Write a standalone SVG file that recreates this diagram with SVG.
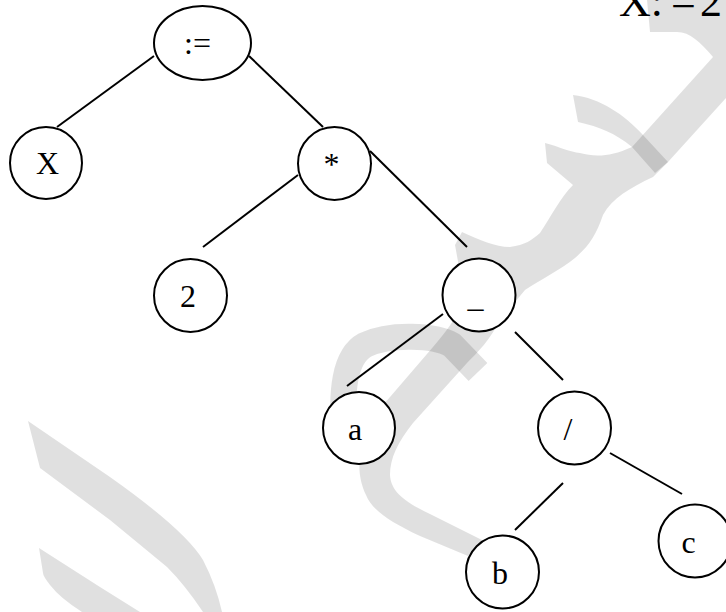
<svg xmlns="http://www.w3.org/2000/svg" width="726" height="612" viewBox="0 0 726 612">
<style>
.wm{fill:#000;fill-opacity:0.12}
.node{fill:#fff;stroke:#000;stroke-width:2}
.lbl{font-family:"Liberation Serif","Times New Roman",serif;font-size:32px;fill:#000;text-anchor:middle}
.edge{stroke:#000;stroke-width:2;fill:none}
</style>
<rect width="726" height="612" fill="#fff"/>
<g id="watermark">
<path class="wm" d="M647,0 L726,0 L726,98 L668,162 L653,177 C630,188 612,198 603,215 C596,235 590,245 575,258 C560,270 540,280 525,290 L500,320 C490,340 478,352 467,363 L413,423 C398,442 390,458 390,475 C391,492 405,502 430,514 L482,540 L468,556 L420,536 C390,522 372,510 366,495 C358,478 358,462 362,447 C368,425 378,410 390,397 L433,347 C445,333 455,320 465,300 L455,245 L462,232 C480,240 495,247 510,247 C525,245 532,240 540,233 C552,215 560,198 573,185 L547,163 L545,143 C560,147 570,152 580,153 C595,157 610,157 632,147 L713,57 C700,42 690,32 677,32 L650,32 Z"/>
<path class="wm" d="M573,95 L578,122 C600,127 615,133 632,147 L655,173 L668,162 L643,135 C625,115 600,98 573,95 Z"/>
<path d="M478,372 L452,345 C435,335 390,333 365,345 C345,356 340,390 345,440" fill="none" stroke="#000" stroke-opacity="0.12" stroke-width="26"/>
<path class="wm" d="M28,421 L110,477 Q185,530 203,560 Q216,585 222,612 L203,612 Q185,585 167,567 L110,520 L40,468 Z"/>
<path class="wm" d="M39,548 L100,587 L140,612 L82,612 Q60,598 50,585 Q43,576 43,573 Z"/>
</g>
<g id="connectors">
<line class="edge" x1="57" y1="127" x2="154" y2="56"/>
<line class="edge" x1="249" y1="56" x2="323" y2="127"/>
<line class="edge" x1="298" y1="175" x2="203" y2="247"/>
<line class="edge" x1="370" y1="151" x2="467" y2="247"/>
<line class="edge" x1="443" y1="314" x2="347" y2="386"/>
<line class="edge" x1="515" y1="332" x2="563" y2="380"/>
<line class="edge" x1="563" y1="483" x2="515" y2="530"/>
<line class="edge" x1="610" y1="453" x2="682" y2="494"/>
</g>
<g id="n-assign"><ellipse class="node" cx="202.5" cy="43" rx="48.5" ry="37"/><text class="lbl" x="197.5" y="54">:=</text></g>
<g id="n-x"><circle class="node" cx="46" cy="163" r="36"/><text class="lbl" x="47.5" y="174">X</text></g>
<g id="n-mul"><circle class="node" cx="334.5" cy="163.5" r="36.5"/><text class="lbl" x="331.5" y="175">*</text></g>
<g id="n-2"><circle class="node" cx="190.5" cy="295.5" r="36.5"/><text class="lbl" x="188" y="307">2</text></g>
<g id="n-minus"><circle class="node" cx="479" cy="295" r="36.5"/><text class="lbl" x="475.5" y="307">_</text></g>
<g id="n-a"><circle class="node" cx="359" cy="428" r="36"/><text class="lbl" x="355" y="440">a</text></g>
<g id="n-div"><circle class="node" cx="574.5" cy="428" r="36.5"/><text class="lbl" x="568" y="440">/</text></g>
<g id="n-b"><circle class="node" cx="502.5" cy="572" r="36.5"/><text class="lbl" x="500" y="584">b</text></g>
<g id="n-c"><circle class="node" cx="695" cy="541" r="36.5"/><text class="lbl" x="688.5" y="553">c</text></g>
<g id="title"><text font-family="'Liberation Serif','Times New Roman',serif" font-size="44" fill="#000" y="16"><tspan x="619">X:</tspan> <tspan x="671">=</tspan> <tspan x="700">2</tspan></text></g>
</svg>
